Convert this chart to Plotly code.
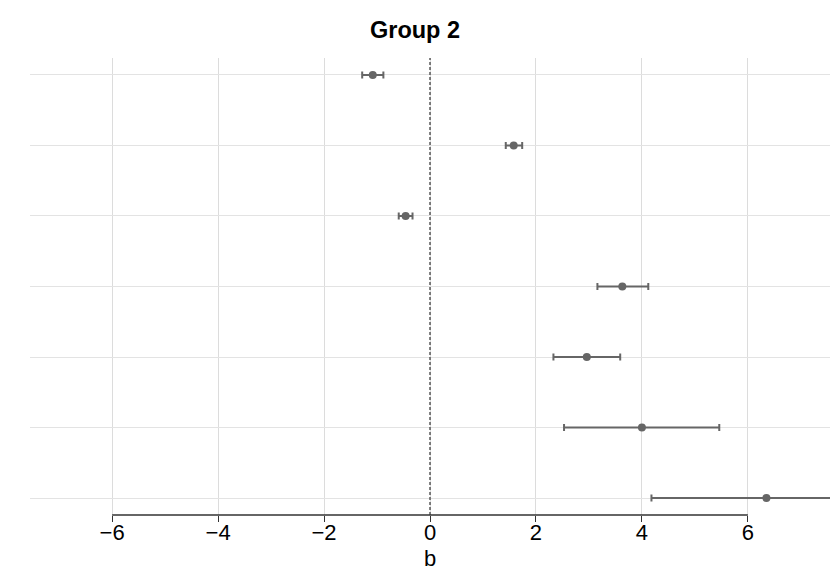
import plotly.graph_objects as go

# Data (rows from top to bottom)
estimates = [-1.08, 1.58, -0.46, 3.63, 2.96, 4.00, 6.35]
lower = [-1.28, 1.43, -0.59, 3.16, 2.33, 2.53, 4.18]
upper = [-0.88, 1.74, -0.33, 4.12, 3.59, 5.46, 8.52]
x_ticks = [-6, -4, -2, 0, 2, 4, 6]
x_tick_labels = ["\u22126", "\u22124", "\u22122", "0", "2", "4", "6"]

n = len(estimates)
rows = [n - i for i in range(n)]

err_plus = [u - e for u, e in zip(upper, estimates)]
err_minus = [e - l for e, l in zip(estimates, lower)]

fig = go.Figure()
fig.add_trace(go.Scatter(
    x=estimates, y=rows, mode="markers",
    marker=dict(color="#666666", size=8),
    error_x=dict(type="data", symmetric=False, array=err_plus, arrayminus=err_minus,
                 color="#666666", thickness=2, width=3.5),
    showlegend=False, hoverinfo="x",
))

# dashed zero line
fig.add_shape(type="line", xref="x", yref="paper", x0=0, x1=0, y0=0, y1=1,
              line=dict(color="#333333", width=1.2, dash="3px,2px"), layer="above")
# range-frame axis line from first to last tick
fig.add_shape(type="line", xref="x", yref="paper", x0=x_ticks[0], x1=x_ticks[-1], y0=0, y1=0,
              line=dict(color="#333333", width=1.3), layer="above")

fig.update_layout(
    width=830, height=588,
    margin=dict(l=30, r=0, t=58, b=73),
    paper_bgcolor="white", plot_bgcolor="white",
    font=dict(family="Liberation Sans, Arial, sans-serif", color="black"),
    title=dict(text="<b>Group 2</b>", x=0.5, xanchor="center", y=1 - 30 / 588, yanchor="middle",
               font=dict(size=23.5, color="black")),
    xaxis=dict(range=[-7.55, 7.55], tickvals=x_ticks, ticktext=x_tick_labels,
               showgrid=True, gridcolor="#dcdcdc", gridwidth=1, zeroline=False,
               showline=False, ticks="outside", ticklen=6, tickcolor="#333333", tickwidth=1.3,
               ticklabelstandoff=-8,
               tickfont=dict(size=22, color="black"),
               title=dict(text="b", font=dict(size=22, color="black"), standoff=6)),
    yaxis=dict(range=[0.76, 7.24], tickvals=rows, showticklabels=False,
               showgrid=True, gridcolor="#e3e3e3", gridwidth=1, zeroline=False,
               showline=False, ticks=""),
)

fig.write_html("out.html", config={"displayModeBar": False},
               post_script="document.body.style.margin='0';")
